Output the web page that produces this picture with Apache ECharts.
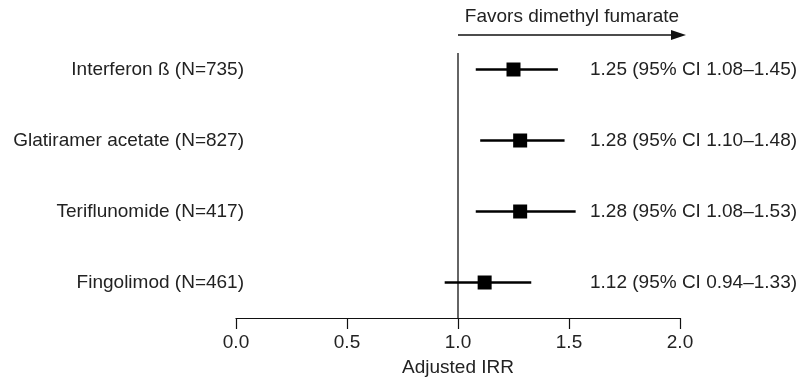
<!DOCTYPE html>
<html>
<head>
<meta charset="utf-8">
<script src="https://cdn.jsdelivr.net/npm/echarts@6/dist/echarts.min.js"></script>
<style>
  html, body { margin: 0; padding: 0; background: #fff; }
  #chart { width: 802px; height: 377px; }
</style>
</head>
<body>
<div id="chart"></div>
<script>
// forest plot data
const categories = ['Interferon ß (N=735)', 'Glatiramer acetate (N=827)', 'Teriflunomide (N=417)', 'Fingolimod (N=461)']
const irr = [1.25, 1.28, 1.28, 1.12]
const ciLow = [1.08, 1.10, 1.08, 0.94]
const ciHigh = [1.45, 1.48, 1.53, 1.33]
const xMin = 0
const xMax = 2
const xStep = 0.5
const favorsText = 'Favors dimethyl fumarate'
const xName = 'Adjusted IRR'

const ciLabels = irr.map((v, i) =>
  v.toFixed(2) + ' (95% CI ' + ciLow[i].toFixed(2) + '–' + ciHigh[i].toFixed(2) + ')')

const font = 'Arial, "Liberation Sans", Helvetica, sans-serif'
const textColor = '#222'

const chart = echarts.init(document.getElementById('chart'))

const option = {
  animation: false,
  grid: { left: 236, right: 122, top: 34, height: 284, outerBoundsMode: 'none', containLabel: false },
  xAxis: {
    type: 'value',
    min: xMin,
    max: xMax,
    interval: xStep,
    splitLine: { show: false },
    axisLine: { show: true, onZero: false, lineStyle: { color: '#111', width: 1.2 } },
    axisTick: { show: true, inside: false, length: 11, lineStyle: { color: '#111', width: 1.2 } },
    axisLabel: {
      margin: 15,
      color: textColor,
      fontFamily: font,
      fontSize: 19,
      formatter: v => v.toFixed(1)
    },
    name: xName,
    nameLocation: 'middle',
    nameGap: 40,
    nameTextStyle: { color: textColor, fontFamily: font, fontSize: 19 }
  },
  yAxis: [
    {
      type: 'category',
      data: categories,
      inverse: true,
      axisLine: { show: false },
      axisTick: { show: false },
      axisLabel: { margin: -8, color: textColor, fontFamily: font, fontSize: 19 }
    },
    {
      type: 'category',
      data: ciLabels,
      inverse: true,
      position: 'right',
      offset: -90,
      axisLine: { show: false },
      axisTick: { show: false },
      axisLabel: { margin: 0, color: textColor, fontFamily: font, fontSize: 19 }
    }
  ],
  series: [
    {
      type: 'custom',
      data: irr.map((v, i) => [i, v, ciLow[i], ciHigh[i]]),
      encode: { x: [1, 2, 3], y: 0 },
      renderItem: (params, api) => {
        const row = api.value(0)
        const p = api.coord([api.value(1), row])
        const lo = api.coord([api.value(2), row])
        const hi = api.coord([api.value(3), row])
        const s = 14
        return {
          type: 'group',
          children: [
            {
              type: 'line',
              shape: { x1: lo[0], y1: lo[1], x2: hi[0], y2: hi[1] },
              style: { stroke: '#000', lineWidth: 2.5 }
            },
            {
              type: 'rect',
              shape: { x: p[0] - s / 2, y: p[1] - s / 2, width: s, height: s },
              style: { fill: '#000' }
            }
          ]
        }
      }
    }
  ]
}

chart.setOption(option)

// reference line at IRR = 1 and the "favors" arrow
const x1 = chart.convertToPixel({ xAxisIndex: 0 }, 1)
const axisY = 34 + 284
const arrowY = 35
const arrowEnd = 686

chart.setOption({
  graphic: [
    {
      type: 'line',
      shape: { x1: x1, y1: 53, x2: x1, y2: axisY },
      style: { stroke: '#111', lineWidth: 1.3 },
      z: 1
    },
    {
      type: 'line',
      shape: { x1: x1, y1: arrowY, x2: arrowEnd - 6, y2: arrowY },
      style: { stroke: '#111', lineWidth: 1.5 }
    },
    {
      type: 'polygon',
      shape: { points: [[arrowEnd, arrowY], [arrowEnd - 15, arrowY - 5], [arrowEnd - 15, arrowY + 5]] },
      style: { fill: '#111' }
    },
    {
      type: 'text',
      x: (x1 + arrowEnd) / 2,
      y: 17,
      style: {
        text: favorsText,
        fill: textColor,
        font: '19px ' + font,
        align: 'center',
        verticalAlign: 'middle'
      }
    }
  ]
})

window.addEventListener('resize', () => chart.resize())
</script>
</body>
</html>
